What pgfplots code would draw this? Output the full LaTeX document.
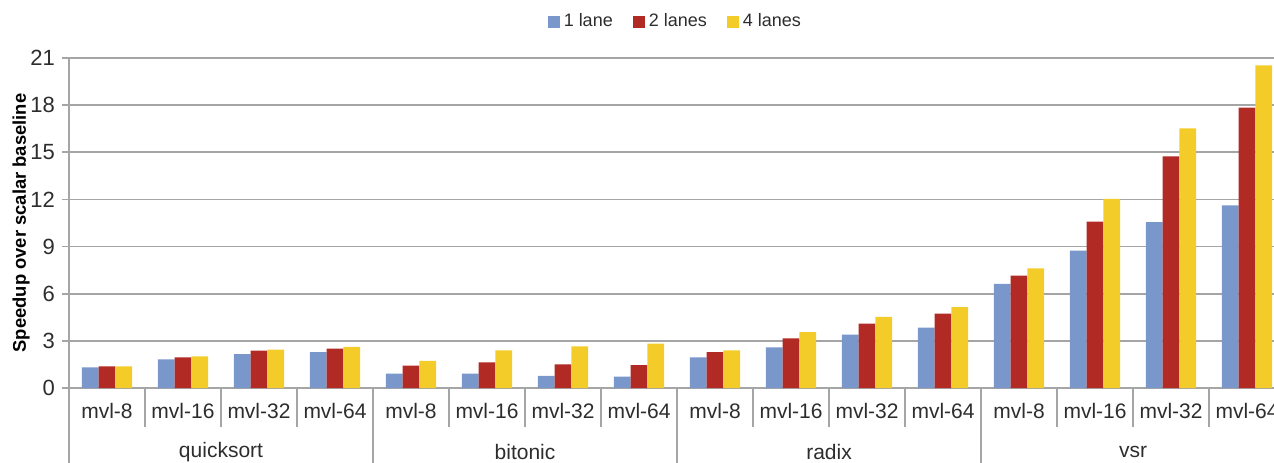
\documentclass[border=0pt]{standalone}
\usepackage{pgfplots}
\pgfplotsset{compat=1.18}
\usepackage{fontspec}
\setmainfont{Liberation Sans}
\definecolor{cb}{RGB}{122,151,204}
\definecolor{cr}{RGB}{178,42,36}
\definecolor{cy}{RGB}{244,204,41}
\definecolor{gl}{RGB}{165,165,165}
\definecolor{tx}{RGB}{45,45,45}
\begin{document}
\begin{tikzpicture}
\begin{axis}[
  width=602.5pt, height=165pt, scale only axis,
  ybar=0pt, bar width=0.22,
  xmin=-0.5, xmax=15.355, ymin=0, ymax=21,
  clip mode=individual,
  axis x line*=bottom, axis y line*=left,
  axis line style={gl, line width=0.8pt},
  ytick={0,3,...,21},
  ymajorgrids, grid style={gl, line width=0.8pt},
  tick align=outside, major tick length=3.5pt,
  ytick style={gl, line width=0.8pt},
  xtick style={draw=none},
  xtick={0,...,15},
  xticklabels={mvl-8,mvl-16,mvl-32,mvl-64,mvl-8,mvl-16,mvl-32,mvl-64,mvl-8,mvl-16,mvl-32,mvl-64,mvl-8,mvl-16,mvl-32,mvl-64},
  xticklabel style={font=\fontsize{10.5}{12}\selectfont, text=tx, yshift=-0.5pt},
  yticklabel style={font=\fontsize{11}{12}\selectfont, text=tx},
  /pgf/number format/assume math mode=true,
  ylabel={Speedup over scalar baseline},
  ylabel style={font=\fontsize{9.2}{10}\selectfont\bfseries, text=black, yshift=-6.5pt},
  legend style={at={(0.504,1)}, anchor=south, yshift=10pt, draw=none, fill=none,
    font=\fontsize{9}{10}\selectfont, text=tx, legend columns=-1,
    /tikz/every even column/.append style={column sep=8pt}},
  legend image code/.code={\fill[#1,draw=none] (-2pt,-3pt) rectangle (4pt,3pt);},
]
\addplot[fill=cb, draw=none] coordinates {(0,1.32) (1,1.82) (2,2.16) (3,2.29) (4,0.91) (5,0.91) (6,0.78) (7,0.72) (8,1.95) (9,2.59) (10,3.39) (11,3.84) (12,6.62) (13,8.74) (14,10.56) (15,11.63)};
\addplot[fill=cr, draw=none] coordinates {(0,1.38) (1,1.95) (2,2.38) (3,2.50) (4,1.42) (5,1.63) (6,1.51) (7,1.46) (8,2.29) (9,3.16) (10,4.09) (11,4.73) (12,7.15) (13,10.59) (14,14.74) (15,17.84)};
\addplot[fill=cy, draw=none] coordinates {(0,1.38) (1,2.02) (2,2.44) (3,2.61) (4,1.72) (5,2.40) (6,2.65) (7,2.82) (8,2.40) (9,3.56) (10,4.52) (11,5.15) (12,7.62) (13,12.03) (14,16.53) (15,20.53)};
\legend{1 lane, 2 lanes, 4 lanes}
\pgfplotsinvokeforeach{0.5,1.5,2.5,4.5,5.5,6.5,8.5,9.5,10.5,12.5,13.5,14.5}{
  \draw[gl, line width=0.8pt] (axis cs:#1,0) -- ++(0pt,-19.5pt);
}
\pgfplotsinvokeforeach{-0.5,3.5,7.5,11.5}{
  \draw[gl, line width=0.8pt] (axis cs:#1,0) -- ++(0pt,-45pt);
}
\node[text=tx, font=\fontsize{10.5}{12}\selectfont] at ([yshift=-32pt]axis cs:1.5,0) {quicksort};
\node[text=tx, font=\fontsize{10.5}{12}\selectfont] at ([yshift=-32pt]axis cs:5.5,0) {bitonic};
\node[text=tx, font=\fontsize{10.5}{12}\selectfont] at ([yshift=-32pt]axis cs:9.5,0) {radix};
\node[text=tx, font=\fontsize{10.5}{12}\selectfont] at ([yshift=-32pt]axis cs:13.5,0) {vsr};
\coordinate (BL) at (rel axis cs:0,0);
\coordinate (TR) at (rel axis cs:1,1);
\end{axis}
\pgfresetboundingbox
\path ([xshift=-34.5pt,yshift=-37pt]BL) rectangle ([yshift=29pt]TR);
\end{tikzpicture}
\end{document}
